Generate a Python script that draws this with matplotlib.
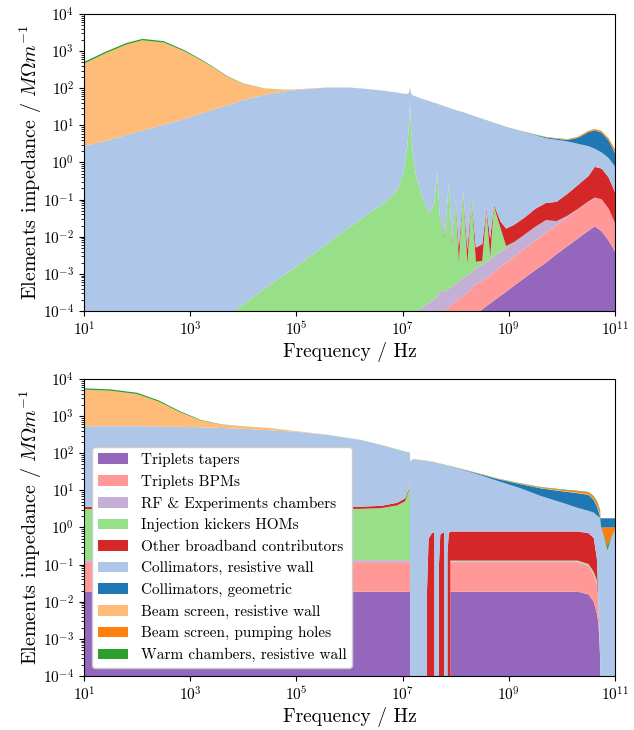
import numpy as np
import matplotlib
matplotlib.use('Agg')
import matplotlib.pyplot as plt

plt.rcParams['font.family'] = 'serif'
plt.rcParams['font.serif'] = ['cmr10']
plt.rcParams['mathtext.fontset'] = 'cm'
plt.rcParams['axes.formatter.use_mathtext'] = True

labels = ['Triplets tapers', 'Triplets BPMs', 'RF & Experiments chambers',
          'Injection kickers HOMs', 'Other broadband contributors',
          'Collimators, resistive wall', 'Collimators, geometric',
          'Beam screen, resistive wall', 'Beam screen, pumping holes',
          'Warm chambers, resistive wall']
colors = ['#9467bd', '#ff9896', '#c5b0d5', '#98df8a', '#d62728',
          '#aec7e8', '#1f77b4', '#ffbb78', '#ff7f0e', '#2ca02c']
x_ticks = [1e1, 1e3, 1e5, 1e7, 1e9, 1e11]
y_ticks = [1e-4, 1e-3, 1e-2, 1e-1, 1e0, 1e1, 1e2, 1e3, 1e4]

# ---- upper panel (values in MOhm/m) ----
freq_top = 10.0 ** np.array([
    1.0, 1.4, 1.8, 2.1, 2.5, 2.9, 3.3, 3.7, 4.0, 4.4, 4.8, 5.2, 5.6, 6.0,
    6.4, 6.7, 6.9, 7.02, 7.09, 7.12, 7.14, 7.16, 7.19, 7.25, 7.35, 7.5,
    7.6, 7.65, 7.7, 7.8, 7.87, 7.93, 8.0, 8.06, 8.14, 8.22, 8.3, 8.38,
    8.5, 8.58, 8.65, 8.72, 8.85, 8.95, 9.1, 9.3, 9.5, 9.7, 9.9, 10.1,
    10.3, 10.5, 10.62, 10.75, 10.88, 11.0])

tapers_top = [0] * 37 + [8.3e-5, 1.1e-4, 1.35e-4, 1.6e-4, 1.9e-4, 2.6e-4,
              3.3e-4, 4.8e-4, 7.8e-4, 1.26e-3, 2.0e-3, 3.4e-3, 5.5e-3,
              8.9e-3, 1.45e-2, 1.9e-2, 1.4e-2, 7.9e-3, 4.0e-3]
bpms_top = [0] * 28 + [8.5e-5, 1.07e-4, 1.29e-4, 1.5e-4, 1.78e-4, 2.1e-4,
            2.5e-4, 3.1e-4, 3.8e-4, 4.6e-4, 5.1e-4, 6.2e-4, 7.5e-4, 8.8e-4,
            1.29e-3, 1.67e-3, 2.4e-3, 4.0e-3, 6.7e-3, 1.09e-2, 1.7e-2,
            2.8e-2, 4.5e-2, 7.3e-2, 9.3e-2, 8.6e-2, 4.8e-2, 1.9e-2]
rf_top = [0] * 23 + [9.3e-5, 1.17e-4, 1.66e-4, 2.14e-4, 2.4e-4, 2.7e-4,
          2.3e-4, 2.7e-4, 3.1e-4, 3.6e-4, 4.2e-4, 5.1e-4, 6.0e-4, 7.2e-4,
          8.6e-4, 1.12e-3, 1.33e-3, 1.54e-3, 1.88e-3, 2.43e-3, 3.0e-3,
          4.3e-3, 6.7e-3, 1.07e-2, 1.53e-2, 5.9e-3, 3e-3, 2e-3, 2e-3, 2e-3,
          1.5e-3, 1e-3, 5e-4]
kickers_top = [0] * 7 + [7.6e-5, 1.5e-4, 4.0e-4, 1.0e-3, 2.6e-3, 6.8e-3,
               1.8e-2, 4.6e-2, 9.3e-2, 0.18, 0.56, 2.8, 10, 39, 7.9, 2.0,
               0.45, 0.14, 0.04, 0.08, 0.56, 0.032, 0.0097, 0.29, 5.8e-3,
               0.1, 1.4e-3, 0.16, 9e-4, 0.11, 7e-4, 5e-4, 0.05, 3.5e-4,
               0.063, 0.012, 6e-4] + [0] * 12
broadband_top = [0] * 24 + [3e-4, 5e-4, 6e-4, 7e-4, 8e-4, 1e-3, 1.2e-3,
                 1.5e-3, 2e-3, 3e-3, 3e-3, 2.7e-3, 3e-3, 3e-3, 4.1e-3,
                 5e-3, 6.1e-3, 7e-3, 9e-3, 1.1e-2, 1.38e-2, 2.15e-2, 3.8e-2,
                 5.3e-2, 6.1e-2, 0.105, 0.19, 0.34, 0.65, 0.58, 0.34, 0.135]
coll_rw_top = [2.8, 3.8, 5.5, 7.2, 10.5, 15, 23, 35, 48, 67, 83, 95, 104,
               104, 93, 83, 76, 70, 67, 66, 65, 64, 62, 59, 52, 45, 40, 38,
               36, 32, 29.5, 27.5, 25.7, 24, 22.4, 20.4, 18.6, 17, 14.8,
               13.5, 12.6, 11.5, 10, 8.9, 7.8, 6.5, 5.4, 4.4, 4.0, 3.56,
               2.95, 2.32, 1.58, 1.18, 0.92, 0.62]
coll_geo_top = [0] * 32 + [0.02] * 12 + [0.05, 0.08, 0.15, 0.28, 0.3, 0.35,
                1.4, 3.8, 5.0, 4.5, 2.6, 1.0]
bs_rw_top = [459, 861, 1505, 1953, 1700, 965, 452, 172, 85, 31, 7.5, 2.0,
             0.8, 0.4, 0.3, 0.25] + [0.2] * 16 + [0.05] * 24
bs_holes_top = [0.02] * 46 + [0.03, 0.06, 0.08, 0.12, 0.25, 0.5, 0.55,
                0.55, 0.5, 0.4]
warm_top = [51, 90, 150, 180, 150, 70, 25, 6, 2, 1, 0.5, 0.3, 0.3, 0.3,
            0.25] + [0.2] * 10 + [0.1] * 19 + [0.03] * 12

# ---- lower panel ----
freq_bot = 10.0 ** np.array([
    1.0, 1.5, 2.0, 2.4, 2.8, 3.2, 3.6, 4.0, 4.5, 5.0, 5.6, 6.2, 6.6, 6.9,
    7.05, 7.12, 7.14, 7.145, 7.2, 7.3, 7.45, 7.46, 7.49, 7.55, 7.6, 7.605,
    7.675, 7.685, 7.71, 7.78, 7.785, 7.835, 7.845, 7.87, 7.895, 7.9, 8.1,
    8.4, 8.8, 9.2, 9.6, 10.0, 10.3, 10.5, 10.6, 10.66, 10.69, 10.72,
    10.74, 10.8, 10.86, 10.93, 11.0])

tapers_bot = [0.0186] * 17 + [0] * 18 + [0.0186] * 8 + [0.0158, 0.010,
              4.9e-3, 2.5e-3, 3.2e-4, 0, 0, 0, 0, 0]
bpms_bot = [0.098] * 17 + [0] * 18 + [0.098] * 8 + [0.077, 0.044, 0.023,
            4.9e-3, 0, 0, 0, 0, 0, 0]
rf_bot = [0.015] * 17 + [0] * 18 + [0.006] * 8 + [0.005, 0.004, 0.003,
          0.001, 0, 0, 0, 0, 0, 0]
kickers_bot = [3.0] * 11 + [3.05, 3.2, 3.8, 5.0, 10, 20] + [0] * 18 \
    + [0.006] * 11 + [0] * 7
broadband_bot = [0.45] * 12 + [0.5, 0.7, 1.0, 1.0, 1.0, 0, 0, 0, 0, 0.02,
                 0.5, 0.7, 0.75, 0, 0, 0.1, 0.65, 0.75, 0, 0, 0.2, 0.7,
                 0.75] + [0.65] * 8 + [0.6, 0.46, 0.107, 0, 0, 0, 0, 0, 0, 0]
coll_rw_bot = [533, 533, 533, 521, 509, 497, 475, 453, 413, 376, 305, 225,
               162, 121, 103, 92, 84, 59, 69, 66, 62, 62, 59.5, 58, 56,
               56.5, 53, 52, 51, 48, 49, 46.5, 46, 45, 44.5, 44, 36, 26.7,
               17, 10.9, 6.3, 3.9, 2.6, 2.1, 2.0, 1.96, 1.94, 1.86, 1.76,
               1.76, 1.76, 1.76, 1.76]
coll_geo_bot = [0] * 17 + [0.1] * 18 + [0.2, 0.6, 1.3, 2.2, 3.2, 4.3, 4.8,
                5.0, 4.8, 3.0, 1.6, 0.8, 0.1] + [-0.76] * 5
bs_rw_bot = [4630, 4290, 3390, 1960, 783, 264, 112, 72, 56, 12, 3, 1.5,
             1.0, 0.8, 0.6, 0.6, 0.6] + [0.4] * 18 + [0.2] * 13 + [0] * 5
bs_holes_bot = [0.3] * 39 + [0.4, 0.5, 0.7, 0.9, 1.0, 1.0, 1.0, 0.8, 0.5,
                0.0, -0.425, -0.684, -0.425, -0.11]
warm_bot = [450, 420, 340, 200, 80, 25, 8, 4, 2, 1.5, 1.2] + [0.8] * 6 \
    + [0.3] * 31 + [-0.005, -0.02, -0.07, -0.02, -0.005]

top_series = [tapers_top, bpms_top, rf_top, kickers_top, broadband_top,
              coll_rw_top, coll_geo_top, bs_rw_top, bs_holes_top, warm_top]
bot_series = [tapers_bot, bpms_bot, rf_bot, kickers_bot, broadband_bot,
              coll_rw_bot, coll_geo_bot, bs_rw_bot, bs_holes_bot, warm_bot]

fig = plt.figure(figsize=(6.34, 7.3), dpi=100)
ax1 = fig.add_axes([0.1325, 0.574, 0.8375, 0.4068])
ax2 = fig.add_axes([0.1325, 0.074, 0.8375, 0.4068])

for ax, freq, series in [(ax1, freq_top, top_series), (ax2, freq_bot, bot_series)]:
    ax.stackplot(freq, *[np.array(s, dtype=float) for s in series],
                 colors=colors, labels=labels, linewidth=0)
    ax.set_xscale('log')
    ax.set_yscale('log')
    ax.set_xticks(x_ticks)
    ax.set_yticks(y_ticks)
    ax.set_xlim(1e1, 1e11)
    ax.set_ylim(1e-4, 1e4)
    ax.set_xlabel('Frequency / Hz', fontsize=14, labelpad=2)
    ax.set_ylabel(r'Elements impedance / $M\Omega m^{-1}$', fontsize=14.5,
                  labelpad=-1)
    ax.tick_params(labelsize=11)

ax2.legend(loc='lower left', fontsize=11, framealpha=1)

fig.savefig('out.png', dpi=100)
